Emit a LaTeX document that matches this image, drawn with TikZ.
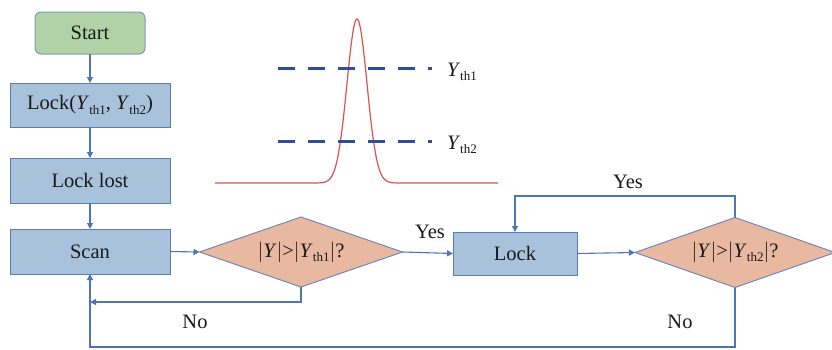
\documentclass[tikz,border=0pt]{standalone}
\usepackage{fontspec}
\setmainfont{Liberation Serif}
\usetikzlibrary{shapes.geometric,arrows.meta}
\definecolor{boxfill}{HTML}{A8C2DC}
\definecolor{boxline}{HTML}{5A7EB4}
\definecolor{startfill}{HTML}{B0D2A6}
\definecolor{startline}{HTML}{7F98B8}
\definecolor{diafill}{HTML}{E8B8A0}
\definecolor{dialine}{HTML}{7388B8}
\definecolor{conn}{HTML}{4F74B8}
\definecolor{dashblue}{HTML}{2E4D9B}
\definecolor{curvered}{HTML}{E0504F}
\newcommand{\Yth}[1]{\textit{Y}\raisebox{-0.45ex}{\fontsize{13}{13}\selectfont th#1}}
\begin{document}
\begin{tikzpicture}[x=1pt,y=-1pt,
  every node/.style={font=\fontsize{20.5}{25}\selectfont, outer sep=0pt, text=black!90},
  procbox/.style={draw=boxline, fill=boxfill, line width=1pt, minimum width=160pt, minimum height=45pt, inner sep=0pt},
  startbox/.style={draw=startline, fill=startfill, line width=1pt, rounded corners=6pt, minimum width=110pt, minimum height=42pt, inner sep=0pt},
  decbox/.style={draw=dialine, fill=diafill, line width=1pt, diamond, aspect=2.9, inner sep=0pt},
  arr/.style={draw=conn, line width=1.1pt, -{Triangle[length=6pt,width=6pt]}},
  lbl/.style={inner sep=0pt}]
\useasboundingbox (0,0) rectangle (832,349);
% flowchart nodes
\node[startbox] (start) at (90,33) {Start};
\node[procbox, minimum height=44pt] (lockA) at (90,105) {Lock(\Yth{1}, \Yth{2})};
\node[procbox] (lost) at (90,180.5) {Lock lost};
\node[procbox] (scan) at (90,251.5) {Scan};
\node[decbox, minimum width=203pt, minimum height=70pt] (dA) at (301,252) {$|$\textit{Y}$|$>$|$\Yth{1}$|$?};
\node[procbox, minimum width=124pt, minimum height=43pt] (lockB) at (515,253.5) {Lock};
\node[decbox, minimum width=200pt, minimum height=70pt] (dB) at (735,252.5) {$|$\textit{Y}$|$>$|$\Yth{2}$|$?};
% helper coordinates
\coordinate (yesTop) at (735,196);
\coordinate (noA) at (90,302);
\coordinate (noB) at (90,347);
% connectors
\draw[arr] (start.south) -- (lockA.north);
\draw[arr] (lockA.south) -- (lost.north);
\draw[arr] (lost.south) -- (scan.north);
\draw[arr] (scan.east) -- (dA.west);
\draw[arr] (dA.east) -- (lockB.west);
\draw[arr] (lockB.east) -- (dB.west);
\draw[arr] (dB.north) |- (yesTop) -| (lockB.north);
\draw[arr] (dA.south) |- (noA);
\draw[arr] (dB.south) |- (noB) -- (scan.south);
% labels
\node[lbl] (yesA) at (430,232) {Yes};
\node[lbl] (yesB) at (628,182) {Yes};
\node[lbl] (noLA) at (195,322) {No};
\node[lbl] (noLB) at (680,322) {No};
% pulse graph
\draw[curvered, line width=1.2pt, line join=round]
  (215,183) -- (312,183)
  plot[domain=312:402, samples=181, smooth] (\x, {183-164*exp(-((\x-357)^2)/200)})
  -- (498,183);
\draw[dashblue, line width=3pt, dash pattern=on 17pt off 13pt] (278,68) -- (432,68);
\draw[dashblue, line width=3pt, dash pattern=on 17pt off 13pt] (278,141) -- (432,141);
\node[lbl, anchor=west] (thA) at (447,72) {\Yth{1}};
\node[lbl, anchor=west] (thB) at (447,145) {\Yth{2}};
\end{tikzpicture}
\end{document}
